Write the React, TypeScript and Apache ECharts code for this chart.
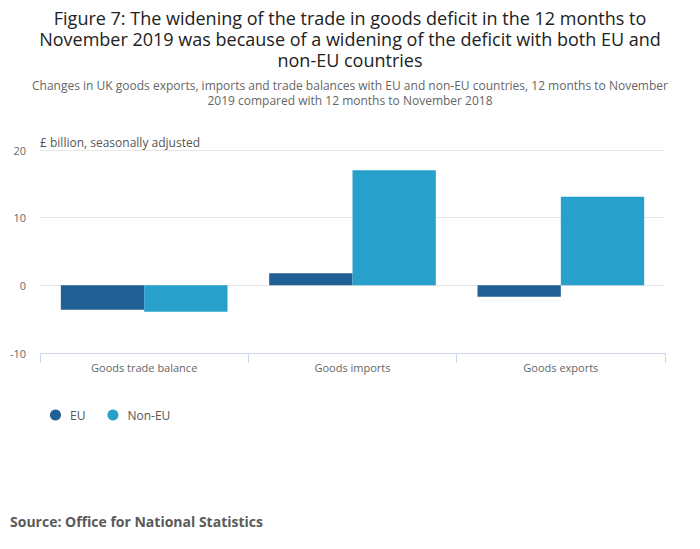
import { useEffect, useRef } from "react";
import * as echarts from "echarts";

const categories = ["Goods trade balance", "Goods imports", "Goods exports"];
const euValues = [-3.6, 1.8, -1.7];
const nonEuValues = [-3.9, 17.0, 13.1];
const seriesNames = ["EU", "Non-EU"];

const FONT = "'Open Sans', 'Noto Sans', sans-serif";

export default function App() {
  const chartRef = useRef<HTMLDivElement | null>(null);

  useEffect(() => {
    document.body.style.margin = "0";
    if (!chartRef.current) {
      return;
    }
    const chart = echarts.init(chartRef.current, null, { renderer: "svg" });

    chart.setOption({
      animation: false,
      textStyle: { fontFamily: FONT },
      title: [
        {
          text: "Figure 7: The widening of the trade in goods deficit in the 12 months to\nNovember 2019 was because of a widening of the deficit with both EU and\nnon-EU countries",
          left: 350,
          top: 7,
          padding: 0,
          textAlign: "center",
          textStyle: {
            fontFamily: FONT,
            fontSize: 18,
            fontWeight: "normal",
            color: "#222222",
            lineHeight: 21
          }
        },
        {
          text: "Changes in UK goods exports, imports and trade balances with EU and non-EU countries, 12 months to November\n2019 compared with 12 months to November 2018",
          left: 350,
          top: 78,
          padding: 0,
          textAlign: "center",
          textStyle: {
            fontFamily: FONT,
            fontSize: 12,
            fontWeight: "normal",
            color: "#666666",
            lineHeight: 15
          }
        },
        {
          text: "Source: Office for National Statistics",
          left: 10,
          top: 514,
          padding: 0,
          textStyle: {
            fontFamily: FONT,
            fontSize: 14,
            fontWeight: "bold",
            color: "#5a5a5a"
          }
        }
      ],
      legend: {
        left: 45,
        top: 404,
        icon: "circle",
        itemWidth: 11,
        itemHeight: 11,
        itemGap: 22,
        data: seriesNames,
        textStyle: {
          fontFamily: FONT,
          fontSize: 12,
          color: "#555555",
          padding: [0, 0, 0, 4]
        }
      },
      grid: { left: 40, right: 35, top: 150, bottom: 196, containLabel: false },
      xAxis: {
        type: "category",
        data: categories,
        position: "bottom",
        axisLine: { onZero: false, lineStyle: { color: "#ccd6eb" } },
        axisTick: { show: true, length: 10, lineStyle: { color: "#ccd6eb" } },
        axisLabel: { fontFamily: FONT, fontSize: 11, color: "#666666", margin: 9 }
      },
      yAxis: {
        type: "value",
        min: -10,
        max: 20,
        interval: 10,
        name: "£ billion, seasonally adjusted",
        nameLocation: "end",
        nameGap: 2,
        nameTextStyle: {
          fontFamily: FONT,
          fontSize: 12,
          color: "#555555",
          align: "left"
        },
        axisLine: { show: false },
        axisTick: { show: false },
        axisLabel: { fontFamily: FONT, fontSize: 11, color: "#666666", margin: 14 },
        splitLine: { lineStyle: { color: "#e6e6e6" } }
      },
      series: [
        {
          name: seriesNames[0],
          type: "bar",
          data: euValues,
          barGap: "0%",
          barCategoryGap: "20%",
          itemStyle: { color: "#206095" }
        },
        {
          name: seriesNames[1],
          type: "bar",
          data: nonEuValues,
          barGap: "0%",
          barCategoryGap: "20%",
          itemStyle: { color: "#27a0cc" }
        }
      ]
    });

    return () => {
      chart.dispose();
    };
  }, []);

  return <div ref={chartRef} style={{ width: 700, height: 549 }} />;
}
